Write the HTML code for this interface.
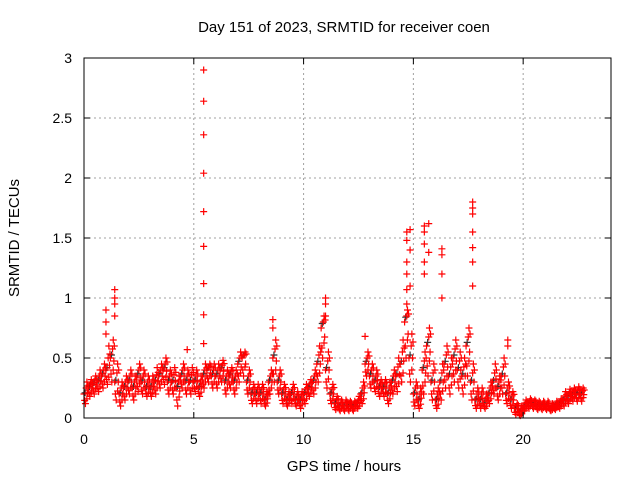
<!DOCTYPE html>
<html><head><meta charset="utf-8"><style>
body{margin:0;background:#fff;}
svg{display:block;font-family:"Liberation Sans",sans-serif;}
</style></head><body>
<svg id="chart" width="640" height="480" viewBox="0 0 640 480">
<rect width="640" height="480" fill="#fff"/>
<text x="344" y="32" font-size="15" text-anchor="middle">Day 151 of 2023, SRMTID for receiver coen</text>
<text x="344" y="471" font-size="15" text-anchor="middle">GPS time / hours</text>
<text transform="translate(19,238) rotate(-90)" font-size="15" text-anchor="middle">SRMTID / TECUs</text>
<g id="grid"></g><g id="marks"></g><g id="axes"></g>
</svg>
<script>
const xTicks=[0,5,10,15,20];
const yTicks=[0,0.5,1,1.5,2,2.5,3];
const yTickLabels=["0","0.5","1","1.5","2","2.5","3"];
const step=0.2;
const base=[0.2,0.25,0.28,0.3,0.35, 0.4,0.5,0.3,0.2,0.25, 0.3,0.25,0.35,0.3,0.25, 0.25,0.3,0.35,0.4,0.3, 0.3,0.25,0.35,0.3,0.3, 0.3,0.25,0.35,0.4,0.35, 0.35,0.4,0.3,0.35,0.3, 0.45,0.5,0.3,0.2,0.2, 0.2,0.15,0.3,0.5,0.3, 0.2,0.15,0.2,0.15,0.15, 0.2,0.25,0.3,0.45,0.75, 0.4,0.2,0.12,0.1,0.1, 0.1,0.1,0.12,0.2,0.45, 0.35,0.3,0.25,0.25,0.2, 0.3,0.35,0.45,0.8,0.5, 0.2,0.15,0.4,0.6,0.3, 0.15,0.3,0.45,0.35,0.5, 0.4,0.35,0.6,0.3,0.15, 0.15,0.12,0.2,0.3,0.25, 0.35,0.2,0.15,0.08,0.05, 0.1,0.12,0.12,0.1,0.1, 0.1,0.08,0.1,0.12,0.15, 0.18,0.2,0.2,0.2];
const low=[0.12,0.18,0.2,0.22,0.25, 0.28,0.3,0.15,0.1,0.15, 0.2,0.15,0.22,0.2,0.18, 0.18,0.2,0.25,0.28,0.2, 0.2,0.1,0.25,0.2,0.2, 0.22,0.18,0.25,0.3,0.25, 0.25,0.3,0.2,0.25,0.2, 0.3,0.35,0.2,0.12,0.12, 0.12,0.1,0.2,0.3,0.2, 0.12,0.1,0.12,0.1,0.08, 0.12,0.18,0.2,0.3,0.5, 0.25,0.12,0.07,0.06,0.06, 0.06,0.06,0.08,0.12,0.35, 0.25,0.22,0.18,0.18,0.12, 0.2,0.22,0.3,0.5,0.3, 0.1,0.08,0.2,0.35,0.15, 0.08,0.15,0.25,0.2,0.3, 0.25,0.2,0.35,0.15,0.08, 0.08,0.08,0.12,0.2,0.15, 0.2,0.12,0.08,0.03,0.02, 0.06,0.08,0.08,0.07,0.07, 0.07,0.06,0.07,0.08,0.1, 0.12,0.14,0.14,0.14];
const high=[0.3,0.32,0.35,0.4,0.45, 0.6,0.65,0.45,0.3,0.35, 0.4,0.35,0.45,0.4,0.35, 0.35,0.42,0.45,0.5,0.4, 0.42,0.35,0.45,0.4,0.42, 0.4,0.35,0.45,0.45,0.45, 0.45,0.48,0.4,0.42,0.4, 0.55,0.55,0.4,0.28,0.28, 0.28,0.22,0.4,0.65,0.4, 0.28,0.22,0.28,0.22,0.22, 0.28,0.32,0.4,0.6,0.85, 0.55,0.28,0.18,0.15,0.15, 0.14,0.14,0.18,0.3,0.55, 0.45,0.4,0.32,0.32,0.3, 0.4,0.5,0.65,0.9,0.7, 0.3,0.25,0.55,0.75,0.45, 0.25,0.45,0.6,0.5,0.65, 0.55,0.5,0.75,0.45,0.25, 0.25,0.2,0.3,0.45,0.35, 0.5,0.3,0.22,0.12,0.1, 0.15,0.16,0.15,0.14,0.14, 0.14,0.12,0.14,0.16,0.22, 0.24,0.25,0.26,0.25];
const spikeHours=[1.0,1.0,1.0,1.4,1.4,1.4,1.4,5.45,5.45,5.45,5.45,5.45,5.45,5.45,5.45,5.45,4.7,8.6,8.6,11.0,11.0,11.0,12.8,14.7,14.7,14.7,14.7,14.7,14.7,14.85,14.85,14.85,15.5,15.5,15.5,15.5,15.5,15.7,15.7,16.3,16.3,16.3,16.3,17.7,17.7,17.7,17.7,17.7,17.7,17.7,19.3,19.3];
const spikeVals=[0.9,0.8,0.7,1.07,1.0,0.95,0.85,2.9,2.64,2.36,2.04,1.72,1.43,1.12,0.86,0.62,0.57,0.82,0.75,1.0,0.95,0.85,0.68,1.55,1.48,1.3,1.2,1.07,0.95,1.57,1.4,1.1,1.6,1.55,1.45,1.3,1.2,1.62,1.38,1.41,1.36,1.2,1.0,1.8,1.75,1.7,1.55,1.42,1.3,1.1,0.6,0.65];
const X=h=>84+h*(527/24);
const Y=v=>418-v*120;
const NS="http://www.w3.org/2000/svg";
const grid=document.getElementById('grid'),marks=document.getElementById('marks'),axes=document.getElementById('axes');
function mk(tag,attrs,parent){const e=document.createElementNS(NS,tag);for(const k in attrs)e.setAttribute(k,attrs[k]);parent.appendChild(e);return e;}
xTicks.forEach(t=>{
 if(t>0){const g=mk('line',{x1:X(t),x2:X(t),y1:58,y2:418,stroke:'#a0a0a0','stroke-dasharray':'2,3'},grid);
 
 }
 const tl=mk('text',{x:X(t),y:444,'font-size':14,'text-anchor':'middle'},axes);tl.textContent=t;
 
 
 mk('line',{x1:X(t),x2:X(t),y1:418,y2:412,stroke:'#000'},axes);
 mk('line',{x1:X(t),x2:X(t),y1:58,y2:64,stroke:'#000'},axes);
});
yTicks.forEach((t,i)=>{
 if(t>0&&t<3){const g=mk('line',{x1:84,x2:611,y1:Y(t),y2:Y(t),stroke:'#a0a0a0','stroke-dasharray':'2,3'},grid);
 
 }
 const tl=mk('text',{x:72,y:Y(t)+5,'font-size':14,'text-anchor':'end'},axes);tl.textContent=yTickLabels[i];
 
 
 mk('line',{x1:84,x2:90,y1:Y(t),y2:Y(t),stroke:'#000'},axes);
 mk('line',{x1:611,x2:605,y1:Y(t),y2:Y(t),stroke:'#000'},axes);
});
const fr=mk('rect',{x:84,y:58,width:527,height:360,fill:'none',stroke:'#000'},axes);


function cross(h,v,col){
 const x=X(h),y=Y(v);
 const p=mk('path',{d:`M${x-3.5},${y}H${x+3.5}M${x},${y-3.5}V${y+3.5}`,stroke:col,'stroke-width':1.2,fill:'none'},marks);
 
 
}
base.forEach((v,i)=>cross(i*step+0.05,v*1.05,'#333'));
[base,low,high].forEach((arr,k)=>arr.forEach((v,i)=>{cross(i*step+k*0.066,v,'#f00');}));
base.forEach((v,i)=>cross(i*step+0.1,(v+high[i])/2,'#f00'));
low.forEach((v,i)=>cross(i*step+0.13,(v+base[i])/2,'#f00'));
high.forEach((v,i)=>cross(i*step+0.16,(v+low[i])/2,'#f00'));
low.forEach((v,i)=>cross(i*step+0.03,(2*v+base[i])/3,'#f00'));
high.forEach((v,i)=>cross(i*step+0.18,(2*v+base[i])/3,'#f00'));
spikeHours.forEach((h,i)=>cross(h,spikeVals[i],'#f00'));
</script>
</body></html>
